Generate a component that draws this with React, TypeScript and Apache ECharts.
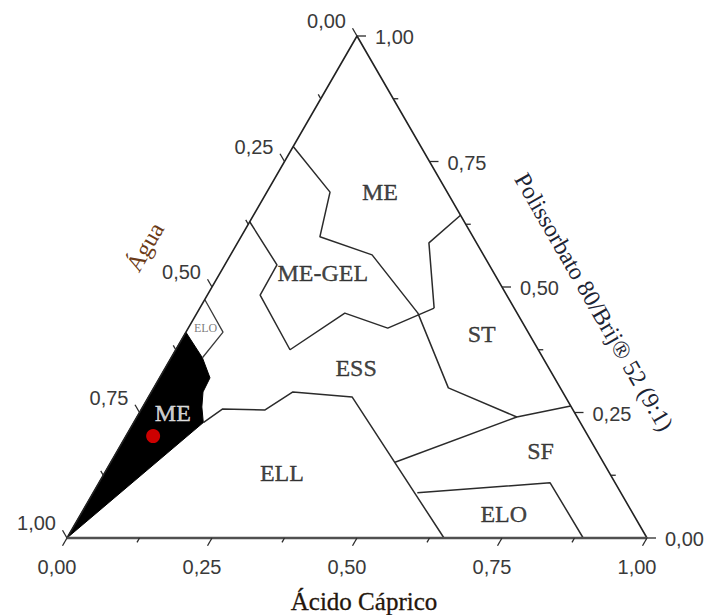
import React, { useEffect, useRef } from "react";
import * as echarts from "echarts";

// Ternary compositions are written as [ácido cáprico, polissorbato 80/Brij 52];
// the água fraction is whatever remains to 1.
const H = Math.sqrt(3) / 2;

const edgeSides: number[][] = [[1, 0], [0, 1], [0, 0]];
const edgeBase: number[][] = [[0, 0], [1, 0]];

const meUpperBoundary: number[][] = [
  [0, 0.78], [0.109, 0.689], [0.136, 0.6], [0.244, 0.564], [0.381, 0.448],
  [0.508, 0.299], [0.655, 0.241], [0.737, 0.263],
];
const stUpperBoundary: number[][] = [[0.357, 0.643], [0.33, 0.588], [0.404, 0.458]];
const meGelBoundary: number[][] = [
  [0, 0.63], [0.09, 0.544], [0.091, 0.484], [0.197, 0.375], [0.255, 0.448],
  [0.344, 0.418], [0.404, 0.458],
];
const sfUpperBoundary: number[][] = [[0.655, 0.241], [0.49, 0.151]];
const ellUpperBoundary: number[][] = [
  [0.12, 0.23], [0.14, 0.257], [0.214, 0.255], [0.244, 0.291], [0.351, 0.281], [0.65, 0],
];
const eloLowerBoundary: number[][] = [[0.559, 0.09], [0.778, 0.11], [0.89, 0]];
const eloSmallBoundary: number[][] = [[0, 0.475], [0.064, 0.41], [0.054, 0.359]];

// microemulsion domain (filled)
const meDomain: number[][] = [
  [0, 0], [0, 0.41], [0.054, 0.359], [0.087, 0.319], [0.089, 0.291],
  [0.102, 0.261], [0.12, 0.23],
];

// selected formulation
const formulation: number[][] = [[0.047, 0.203]];

const regionNames: string[] = ["ME", "ME-GEL", "ESS", "ST", "SF", "ELO", "ELL", "ME", "ELO"];
const regionPositions: number[][] = [
  [0.195, 0.689], [0.177, 0.528], [0.329, 0.339], [0.512, 0.406], [0.73, 0.173],
  [0.729, 0.048], [0.306, 0.129], [0.058, 0.249], [0.03, 0.418],
];

const tickValues: number[] = [0, 0.125, 0.25, 0.375, 0.5, 0.625, 0.75, 0.875, 1];
const tickLabels: string[] = ["0,00", "0,25", "0,50", "0,75", "1,00"];

const toXY = (p: number[]) => [p[0] + p[1] / 2, p[1] * H];

const SERIF = "'Liberation Serif', 'Times New Roman', serif";
const SANS = "'Liberation Sans', Arial, sans-serif";

const boundary = (pts: number[][], width = 1.5, color = "#2b2b2b") => ({
  type: "line",
  data: pts.map(toXY),
  showSymbol: false,
  symbol: "none",
  silent: true,
  clip: false,
  z: 3,
  lineStyle: { color, width },
});

type AxisKind = "bottom" | "right" | "left";

const axisSeries = (kind: AxisKind) => ({
  type: "custom",
  coordinateSystem: "cartesian2d",
  silent: true,
  clip: false,
  z: 4,
  data: tickValues.map((v) => [v, 0]),
  renderItem: (_params: any, api: any) => {
    const v = api.value(0) as number;
    let comp: number[];
    let dir: number[];
    let off: number[];
    let align: string;
    if (kind === "bottom") {
      comp = [v, 0];
      dir = [-0.5, H];
      off = [-10, 29];
      align = "center";
    } else if (kind === "right") {
      comp = [1 - v, v];
      dir = [1, 0];
      off = [18, 1];
      align = "left";
    } else {
      comp = [0, 1 - v];
      dir = [-0.5, -H];
      off = [-11, -15];
      align = "right";
    }
    const p = api.coord(toXY(comp));
    const idx = v * 4;
    const major = Math.abs(idx - Math.round(idx)) < 1e-6;
    const len = major ? 9 : 5;
    const children: any[] = [
      {
        type: "line",
        shape: { x1: p[0], y1: p[1], x2: p[0] + dir[0] * len, y2: p[1] + dir[1] * len },
        style: { stroke: "#2b2b2b", lineWidth: 1.3 },
      },
    ];
    if (major) {
      children.push({
        type: "text",
        style: {
          text: tickLabels[Math.round(idx)],
          x: p[0] + off[0],
          y: p[1] + off[1],
          align,
          verticalAlign: "middle",
          fontSize: 20,
          fontFamily: SANS,
          fill: "#3a3a3a",
        },
      });
    }
    return { type: "group", children };
  },
});

export default function App() {
  const ref = useRef<HTMLDivElement>(null);

  useEffect(() => {
    if (!ref.current) return;
    const chart = echarts.init(ref.current, null, { renderer: "svg" });

    const labelData = regionNames.map((name, i) => {
      const item: any = { name, value: toXY(regionPositions[i]) };
      if (i === 7) item.label = { color: "#ffffff", textBorderColor: "#ffffff" };
      if (i === 8) item.label = { fontSize: 12, color: "#5a5a5a", textBorderWidth: 0 };
      return item;
    });

    chart.setOption({
      animation: false,
      backgroundColor: "#ffffff",
      grid: { left: 67, top: 36, width: 580, height: 502 },
      xAxis: { type: "value", min: 0, max: 1, show: false },
      yAxis: { type: "value", min: 0, max: H, show: false },
      graphic: [
        {
          type: "text",
          x: 364,
          y: 601,
          style: {
            text: "Ácido Cáprico",
            fontSize: 25,
            fontFamily: SERIF,
            fill: "#24160c",
            stroke: "#24160c",
            lineWidth: 0.3,
            align: "center",
            verticalAlign: "middle",
          },
        },
        {
          type: "text",
          x: 145,
          y: 247,
          rotation: Math.PI / 3,
          style: {
            text: "Água",
            fontSize: 24,
            fontFamily: SERIF,
            fill: "#6b3a16",
            align: "center",
            verticalAlign: "middle",
          },
        },
        {
          type: "text",
          x: 594,
          y: 302,
          rotation: -Math.PI / 3,
          style: {
            text: "Polissorbato 80/Brij® 52 (9:1)",
            fontSize: 24,
            fontFamily: SERIF,
            fill: "#1c2434",
            align: "center",
            verticalAlign: "middle",
          },
        },
      ],
      series: [
        {
          type: "custom",
          coordinateSystem: "cartesian2d",
          silent: true,
          clip: false,
          z: 2,
          data: [[0, 0]],
          renderItem: (_p: any, api: any) => ({
            type: "polygon",
            shape: { points: meDomain.map((pt) => api.coord(toXY(pt))) },
            style: { fill: "#000000", stroke: "#000000", lineWidth: 1 },
          }),
        },
        boundary(meUpperBoundary),
        boundary(stUpperBoundary),
        boundary(meGelBoundary),
        boundary(sfUpperBoundary),
        boundary(ellUpperBoundary),
        boundary(eloLowerBoundary),
        boundary(eloSmallBoundary, 1.3, "#3a3a3a"),
        boundary(edgeSides, 1.6, "#222222"),
        boundary(edgeBase, 2.6, "#505050"),
        axisSeries("bottom"),
        axisSeries("right"),
        axisSeries("left"),
        {
          type: "scatter",
          data: formulation.map(toXY),
          symbol: "circle",
          symbolSize: 14,
          silent: true,
          z: 6,
          itemStyle: { color: "#ff0000" },
        },
        {
          type: "scatter",
          data: labelData,
          symbolSize: 0,
          silent: true,
          z: 7,
          label: {
            show: true,
            position: "inside",
            formatter: "{b}",
            fontSize: 24,
            fontFamily: SERIF,
            color: "#111111",
            textBorderColor: "#111111",
            textBorderWidth: 0.4,
          },
        },
      ],
    });

    return () => chart.dispose();
  }, []);

  return (
    <div
      ref={ref}
      style={{ position: "fixed", left: 0, top: 0, width: 710, height: 615, background: "#fff" }}
    />
  );
}
